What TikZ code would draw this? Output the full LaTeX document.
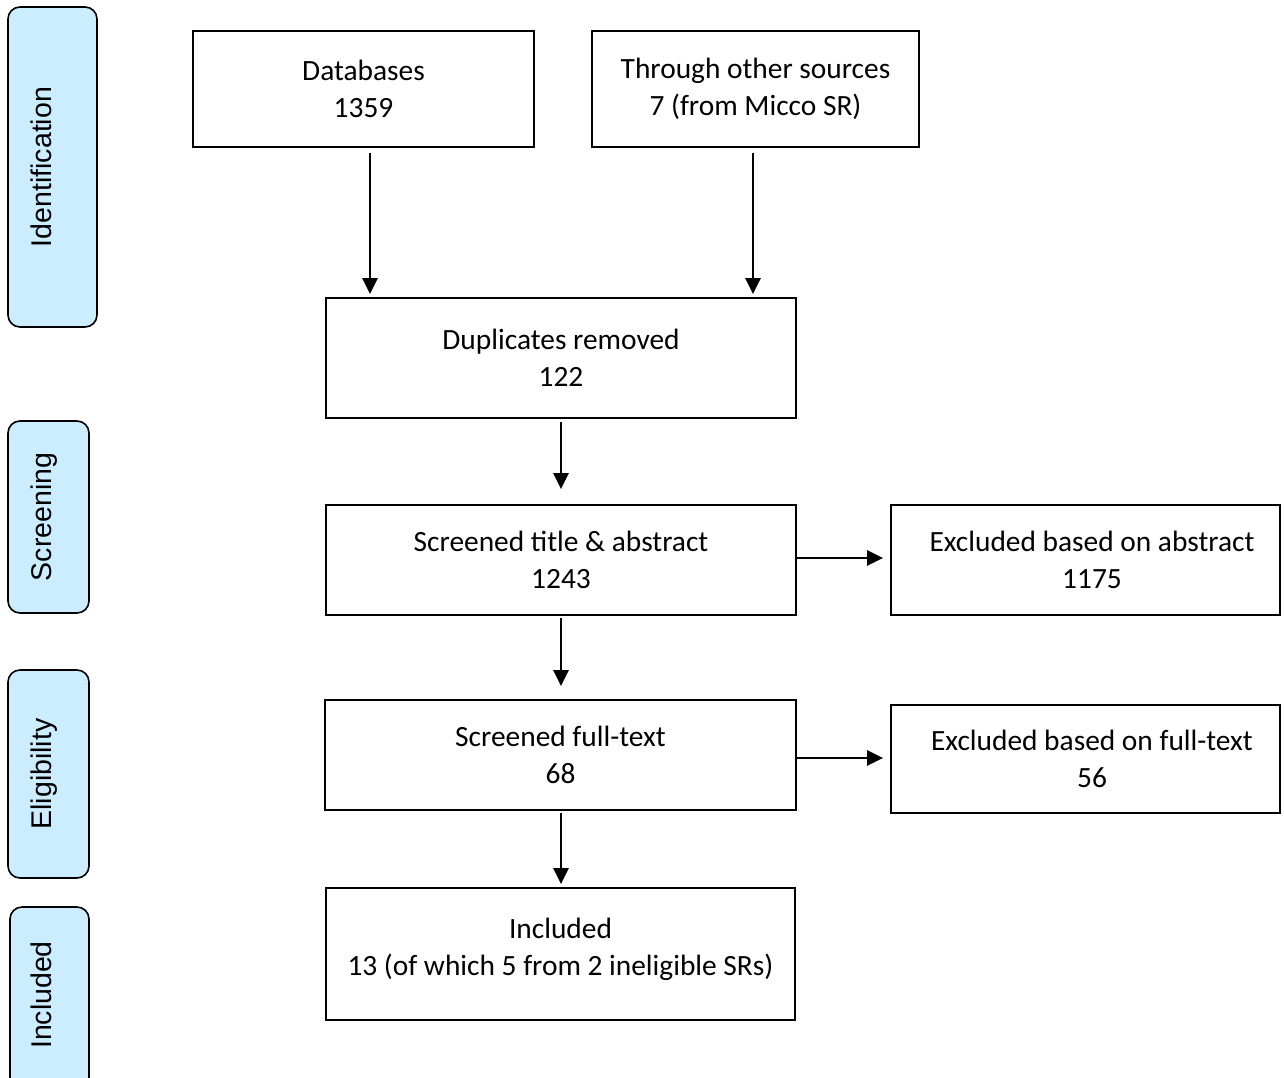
\documentclass[tikz,border=0pt]{standalone}
\usepackage{fontspec}
\setmainfont{Carlito}
\newfontfamily\arialf{Liberation Sans}
\usetikzlibrary{arrows.meta,calc}
\definecolor{sidefill}{HTML}{CCECFF}
\begin{document}
\begin{tikzpicture}[x=1pt,y=-1pt,
  box/.style={draw=black,line width=1.8pt,rectangle,inner sep=0pt,align=center,
    font=\fontsize{29.4}{37}\selectfont},
  sidebox/.style={draw=black,line width=1.6pt,fill=sidefill,rounded corners=12pt,inner sep=0pt},
  sidetext/.style={rotate=90,anchor=base,inner sep=0pt,font=\arialf\fontsize{28.5}{34}\selectfont},
  arr/.style={line width=2.4pt,-{Triangle[length=16pt,width=15pt]}}]
\useasboundingbox (0,0) rectangle (1284,1077);
\begin{scope}
\clip (0,0) rectangle (1284,1077);
% side boxes
\node[sidebox,minimum width=89pt,minimum height=320pt] (sid) at (52.5,167) {};
\node[sidetext] (tid) at (51,167) {Identification};
\node[sidebox,minimum width=81pt,minimum height=192pt] (ssc) at (48.5,517) {};
\node[sidetext] (tsc) at (51,517) {Screening};
\node[sidebox,minimum width=81pt,minimum height=208pt] (sel) at (48.5,774) {};
\node[sidetext] (tel) at (51,774) {Eligibility};
\node[sidebox,minimum width=79pt,minimum height=190pt] (sin) at (49.5,1002) {};
\node[sidetext] (tin) at (51,995) {Included};
\end{scope}
% main boxes
\node[box,minimum width=341pt,minimum height=116pt] (db) at (363.5,89) {Databases\\1359};
\node[box,minimum width=327pt,minimum height=116pt] (oth) at (755.5,89) {Through other sources\\7 (from Micco SR)};
\node[box,minimum width=470pt,minimum height=120pt] (dup) at (561,358) {Duplicates removed\\122};
\node[box,minimum width=470pt,minimum height=110pt] (scr) at (561,560) {Screened title \& abstract\\1243};
\node[box,minimum width=389pt,minimum height=110pt] (exa) at (1085.5,560) {\hspace*{13pt}Excluded based on abstract\\\hspace*{13pt}1175};
\node[box,minimum width=471pt,minimum height=110pt] (ful) at (560.5,755) {Screened full-text\\68};
\node[box,minimum width=389pt,minimum height=108pt] (exf) at (1085.5,759) {\hspace*{13pt}Excluded based on full-text\\\hspace*{13pt}56};
\node[box,minimum width=469pt,minimum height=132pt] (inc) at (560.5,954) {Included\\13 (of which 5 from 2 ineligible SRs)\\[-22pt]\mbox{}};
% connectors
\coordinate (t1) at (370,153);
\coordinate (t2) at (753,153);
\draw[arr,shorten >=3pt] (t1) -- (t1 |- dup.north);
\draw[arr,shorten >=3pt] (t2) -- (t2 |- dup.north);
\draw[arr,shorten <=3pt,shorten >=15pt] (dup.south) -- (dup.south |- scr.north);
\draw[arr,shorten >=7pt] ([yshift=2pt]scr.east) -- ([yshift=2pt]scr.east -| exa.west);
\draw[arr,shorten <=2pt,shorten >=13pt] (scr.south) -- (scr.south |- ful.north);
\draw[arr,shorten >=7pt] ([yshift=-3pt]ful.east) -- ([yshift=-3pt]ful.east -| exf.west);
\draw[arr,shorten <=2pt,shorten >=3pt] ([xshift=0.5pt]ful.south) -- ([xshift=0.5pt]ful.south |- inc.north);
\end{tikzpicture}
\end{document}
